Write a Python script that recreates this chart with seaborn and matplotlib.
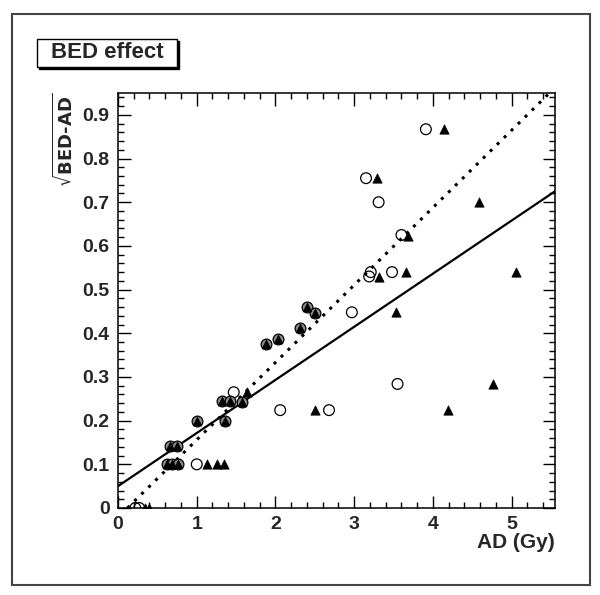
# === IMPORTS ===
import numpy as np
import pandas as pd
import seaborn as sns
import matplotlib.pyplot as plt
from matplotlib.patches import Rectangle
from matplotlib.ticker import MultipleLocator

# === SETTINGS ===
sns.set_style("ticks")
plt.rcParams["font.family"] = ["Liberation Sans", "DejaVu Sans"]
plt.rcParams["font.weight"] = "bold"
plt.rcParams["mathtext.fontset"] = "dejavusans"

# === DATA ===
# open circles
circle_x = [0.22, 0.27, 1.00, 1.47, 2.06, 2.68, 2.97, 3.15, 3.31, 3.21, 3.19, 3.48, 3.60, 3.91, 3.55]
circle_y = [0.000, 0.000, 0.100, 0.265, 0.224, 0.224, 0.448, 0.755, 0.700, 0.540, 0.530, 0.540, 0.625, 0.867, 0.284]

# filled triangles
tri_x = [0.34, 0.40, 1.13, 1.26, 1.35, 1.64, 2.50, 3.29, 3.31, 3.66, 3.68, 3.53, 4.14, 4.59, 5.06, 4.19, 4.76]
tri_y = [0.000, 0.000, 0.100, 0.100, 0.100, 0.265, 0.224, 0.755, 0.528, 0.540, 0.622, 0.448, 0.867, 0.700, 0.540, 0.224, 0.284]

# points where circle and triangle sit on top of each other
both_x = [0.62, 0.69, 0.76, 0.66, 0.75, 1.00, 1.36, 1.32, 1.42, 1.57, 1.88, 2.03, 2.31, 2.40, 2.50]
both_y = [0.100, 0.100, 0.100, 0.142, 0.142, 0.200, 0.200, 0.245, 0.245, 0.243, 0.375, 0.387, 0.412, 0.460, 0.446]

# fitted lines (end points)
solid_x = [0.0, 5.55]
solid_y = [0.050, 0.725]
dotted_x = [0.12, 5.48]
dotted_y = [0.000, 0.950]

circles = pd.DataFrame({"AD": circle_x, "val": circle_y})
triangles = pd.DataFrame({"AD": tri_x, "val": tri_y})
both = pd.DataFrame({"AD": both_x, "val": both_y})

# === FIGURE ===
fig = plt.figure(figsize=(6.0, 5.95), dpi=100)
ax = fig.add_axes([118 / 600, 1 - 508 / 595, (555 - 118) / 600, (508 - 93) / 595])

# outer frame
fig.patches.append(Rectangle((12 / 600, 1 - 585 / 595), 578 / 600, 571 / 595,
                             transform=fig.transFigure, fill=False,
                             edgecolor="#444444", linewidth=1.5))

# fit lines
sns.lineplot(x=solid_x, y=solid_y, ax=ax, color="black", linewidth=1.6)
sns.lineplot(x=dotted_x, y=dotted_y, ax=ax, color="black", linewidth=2.2,
             linestyle=(0, (1, 2.2)))

# markers
sns.scatterplot(data=circles, x="AD", y="val", ax=ax, marker="o", s=60,
                facecolor="none", edgecolor="black", linewidth=0.9, zorder=3)
sns.scatterplot(data=both, x="AD", y="val", ax=ax, marker="o", s=60,
                color="#8a8a8a", edgecolor="black", linewidth=0.9, zorder=3)
sns.scatterplot(data=both, x="AD", y="val", ax=ax, marker="^", s=40,
                color="black", edgecolor="black", linewidth=0.5, zorder=4)
sns.scatterplot(data=triangles, x="AD", y="val", ax=ax, marker="^", s=45,
                color="black", edgecolor="black", linewidth=0.5, zorder=4)

# === AXES STYLE (ROOT look) ===
ax.set_xlim(0, 5.55)
ax.set_ylim(0, 0.95)
ax.xaxis.set_major_locator(MultipleLocator(1))
ax.xaxis.set_minor_locator(MultipleLocator(0.2))
ax.yaxis.set_major_locator(MultipleLocator(0.1))
ax.yaxis.set_minor_locator(MultipleLocator(0.02))
ax.xaxis.set_major_formatter(plt.FuncFormatter(lambda v, p: f"{v:g}"))
ax.yaxis.set_major_formatter(plt.FuncFormatter(lambda v, p: f"{v:g}"))

ax.tick_params(which="both", direction="in", top=True, right=True,
               labeltop=False, labelright=False, color="black", width=1)
ax.tick_params(which="major", length=9, labelsize=14, pad=6)
ax.tick_params(which="minor", length=4.5)
for lab in ax.get_xticklabels() + ax.get_yticklabels():
    lab.set_fontweight("bold")
for sp in ax.spines.values():
    sp.set_linewidth(1.1)
    sp.set_color("black")

ax.set_xlabel("AD (Gy)", fontsize=15, fontweight="bold", loc="right")
ax.xaxis.set_label_coords(1.0, -0.06)
ax.set_ylabel(r"$\sqrt{\mathbf{BED\text{-}AD}}$", fontsize=13, loc="top")
ax.yaxis.set_label_coords(-0.095, 1.0)

# title box with shadow
fig.patches.append(Rectangle((39 / 600, 1 - 69 / 595), 140 / 600, 28 / 595,
                             transform=fig.transFigure, facecolor="black",
                             edgecolor="black", linewidth=1))
fig.patches.append(Rectangle((37 / 600, 1 - 67 / 595), 140 / 600, 28 / 595,
                             transform=fig.transFigure, facecolor="white",
                             edgecolor="black", linewidth=1))
fig.text(107 / 600, 1 - 53 / 595, "BED effect", fontsize=16, fontweight="bold",
         ha="center", va="center")

fig.savefig("out.png", dpi=100)
